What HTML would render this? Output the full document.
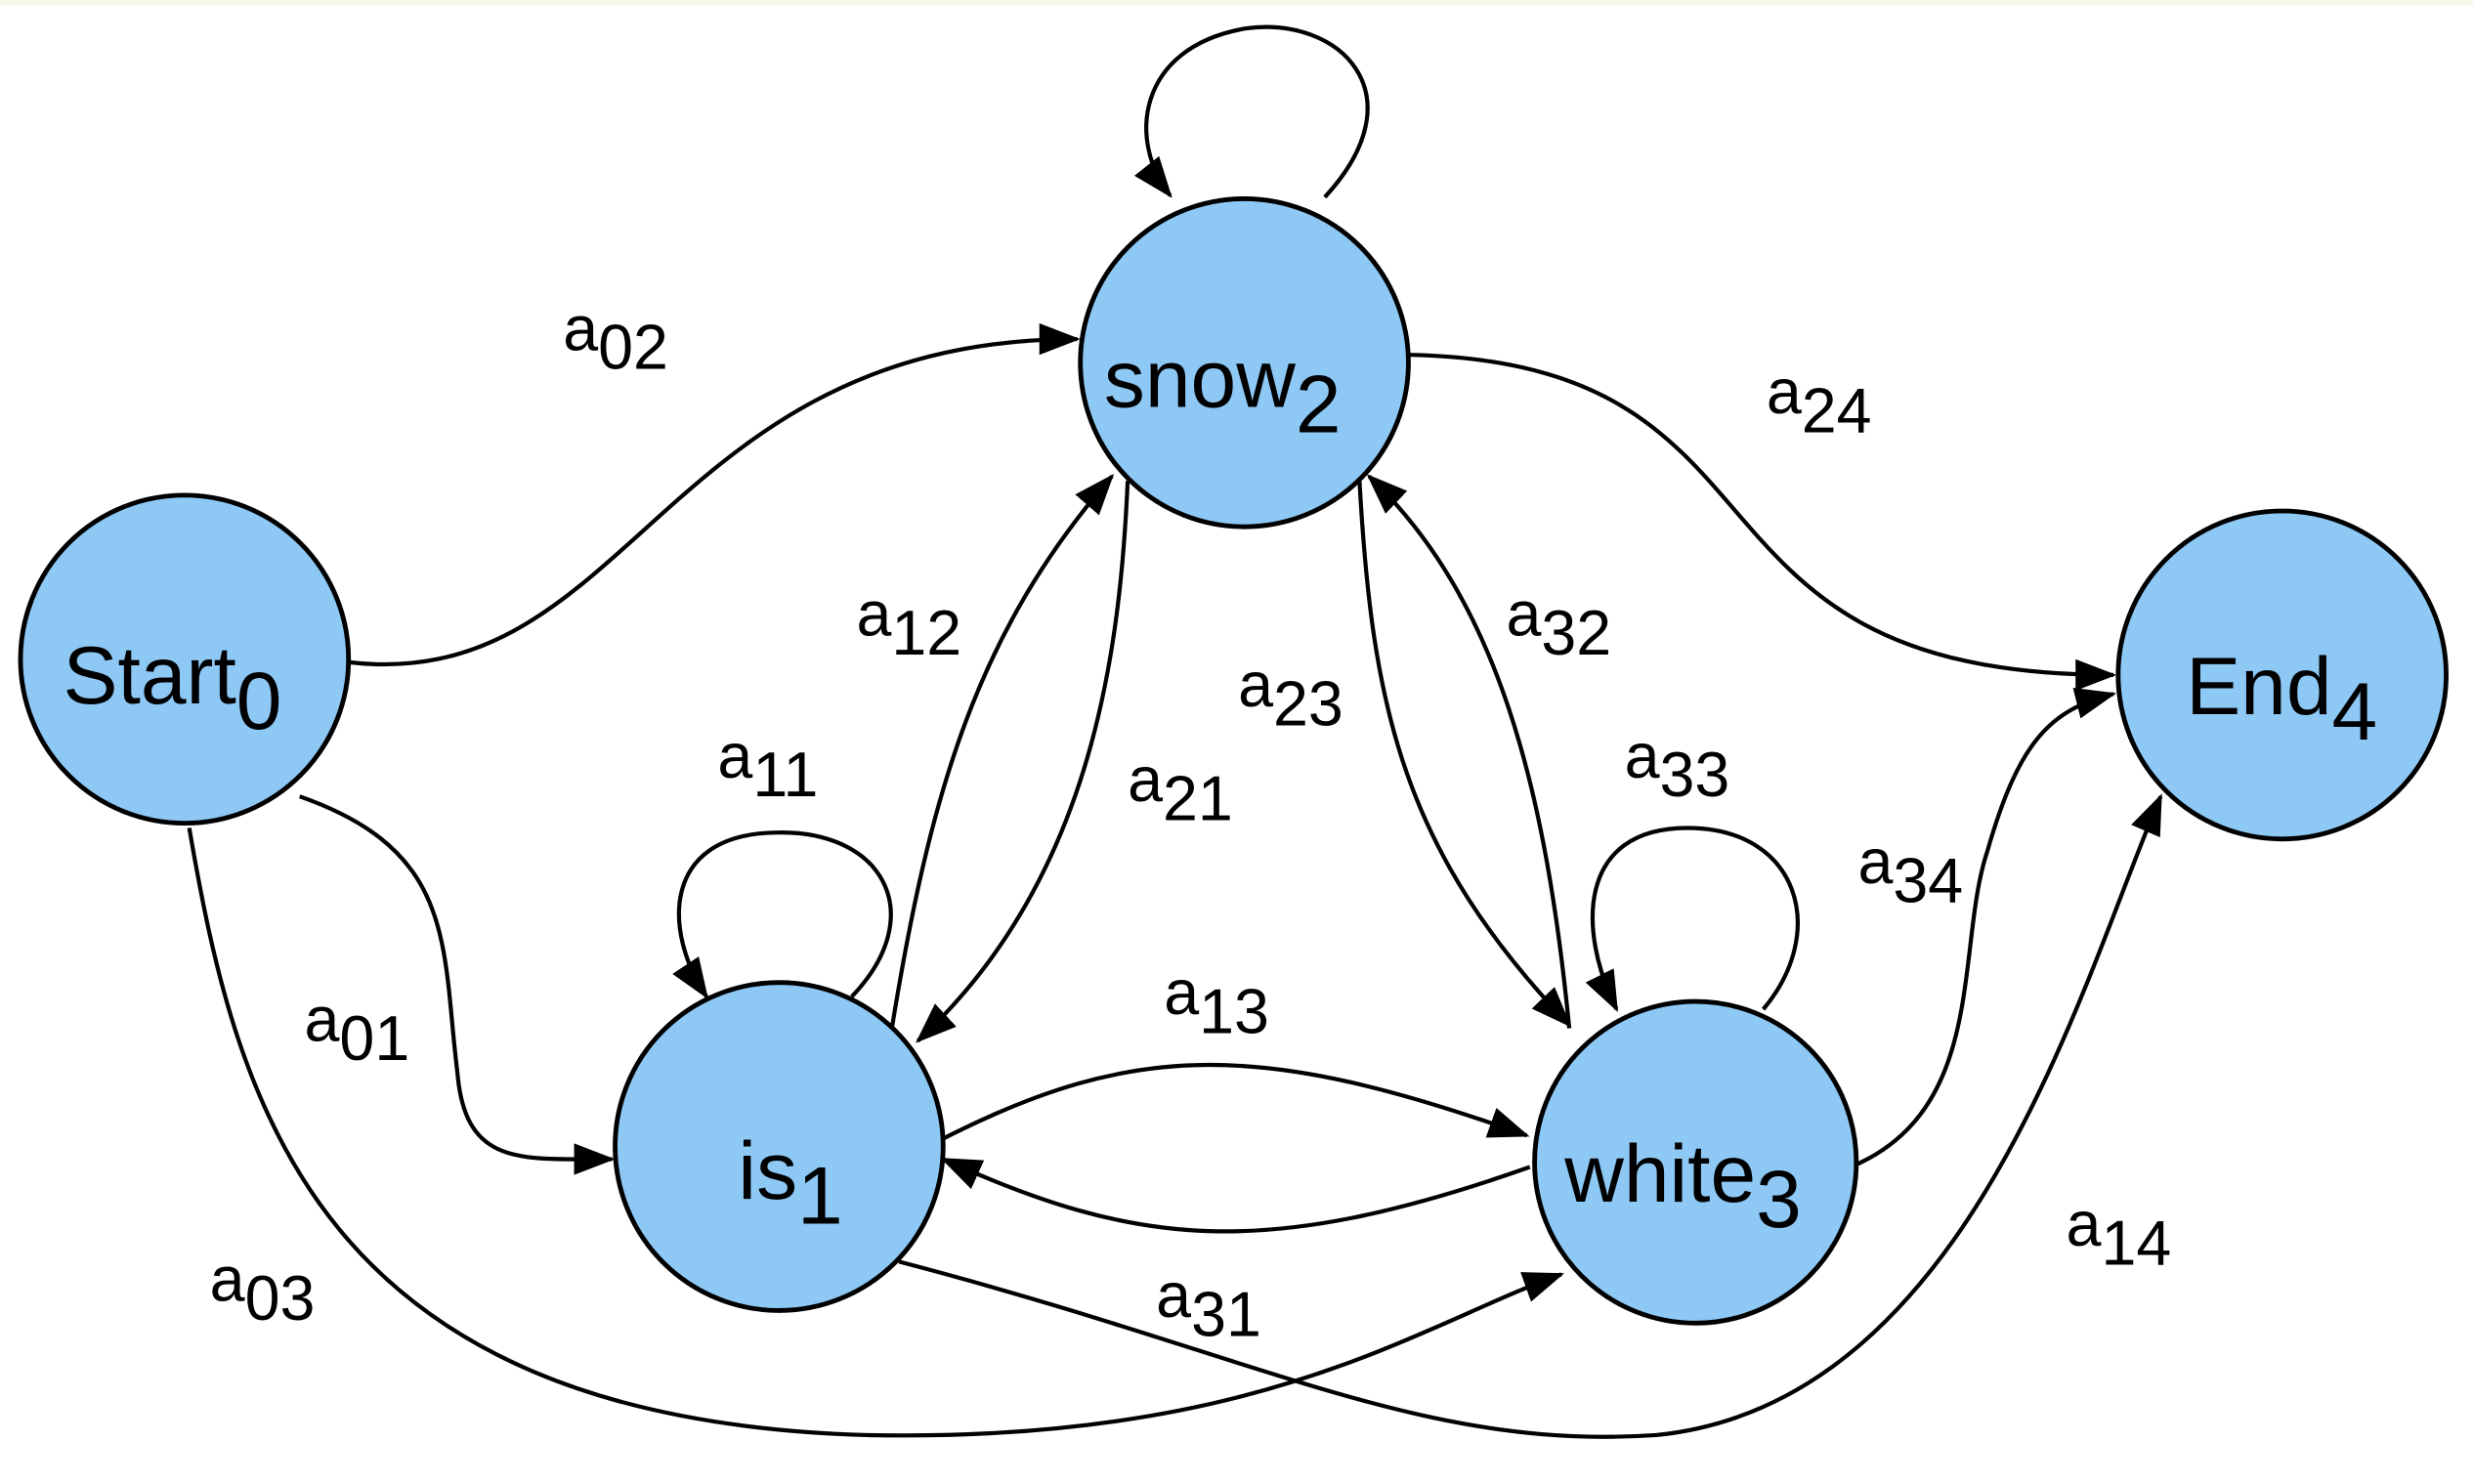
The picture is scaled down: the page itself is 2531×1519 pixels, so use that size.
<!DOCTYPE html>
<html><head><style>html,body{margin:0;padding:0;background:#fff}svg{display:block}</style></head>
<body>
<svg width="2531" height="1519" viewBox="0 0 1568 941" preserveAspectRatio="none" xmlns="http://www.w3.org/2000/svg">
<defs>
<marker id="ar" markerUnits="userSpaceOnUse" markerWidth="26" markerHeight="22" refX="24" refY="10" orient="auto">
<path d="M0,0 L26,10 L0,20 Z" fill="#000"/>
</marker>
</defs>
<rect x="0" y="0" width="1568" height="3" fill="#f4f8e4"/>
<g fill="none" stroke="#000" stroke-width="2.6" marker-end="url(#ar)">
<path d="M222,420 C400,440 420,215 683,215"/>
<path d="M893,225 C1150,230 1050,428 1340,428"/>
<path d="M190,505 C290,540 280,600 290,680 C295,740 330,735 388,735"/>
<path d="M120,525 C150,700 200,900 550,910 C800,915 900,840 990,808"/>
<path d="M570,800 C800,860 900,920 1050,910 C1250,890 1320,620 1370,505"/>
<path d="M1178,738 C1260,700 1240,600 1260,540 C1280,470 1300,450 1340,440"/>
<path d="M598,722 C720,660 800,660 968,720"/>
<path d="M970,740 C800,800 720,790 598,735"/>
<path d="M565,655 C590,500 620,400 705,302"/>
<path d="M715,305 C710,420 690,560 582,660"/>
<path d="M862,305 C870,450 890,540 995,650"/>
<path d="M995,652 C980,500 950,380 868,302"/>
<path d="M840,125 C900,60 850,10 790,18 C720,30 715,90 742,124"/>
<path d="M540,632 C590,580 560,525 490,528 C420,530 420,590 448,632"/>
<path d="M1118,640 C1160,590 1140,525 1070,525 C1000,525 1000,590 1025,640"/>
</g>
<g fill="#8ec8f5" stroke="#000" stroke-width="3">
<circle cx="117" cy="418" r="104"/>
<circle cx="789" cy="230" r="104"/>
<circle cx="494" cy="727" r="104"/>
<circle cx="1075" cy="737" r="102"/>
<circle cx="1447" cy="428" r="104"/>
</g>
<g font-family="Liberation Sans, sans-serif" fill="#000" font-size="52">
<text x="40" y="446">Start<tspan dy="16">0</tspan></text>
<text x="700" y="258">snow<tspan dy="16">2</tspan></text>
<text x="468" y="760">is<tspan dy="16">1</tspan></text>
<text x="992" y="762">white<tspan dy="16">3</tspan></text>
<text x="1386" y="453">End<tspan dy="16">4</tspan></text>
</g>
<g font-family="Liberation Sans, sans-serif" fill="#000" font-size="40">
<text x="357" y="222">a<tspan dy="12">02</tspan></text>
<text x="1120" y="262">a<tspan dy="12">24</tspan></text>
<text x="543" y="403">a<tspan dy="12">12</tspan></text>
<text x="715" y="508">a<tspan dy="12">21</tspan></text>
<text x="785" y="448">a<tspan dy="12">23</tspan></text>
<text x="955" y="403">a<tspan dy="12">32</tspan></text>
<text x="455" y="493">a<tspan dy="12">11</tspan></text>
<text x="1030" y="493">a<tspan dy="12">33</tspan></text>
<text x="1178" y="560">a<tspan dy="12">34</tspan></text>
<text x="738" y="643">a<tspan dy="12">13</tspan></text>
<text x="733" y="835">a<tspan dy="12">31</tspan></text>
<text x="1310" y="790">a<tspan dy="12">14</tspan></text>
<text x="193" y="660">a<tspan dy="12">01</tspan></text>
<text x="133" y="825">a<tspan dy="12">03</tspan></text>
</g>
</svg>
</body></html>
